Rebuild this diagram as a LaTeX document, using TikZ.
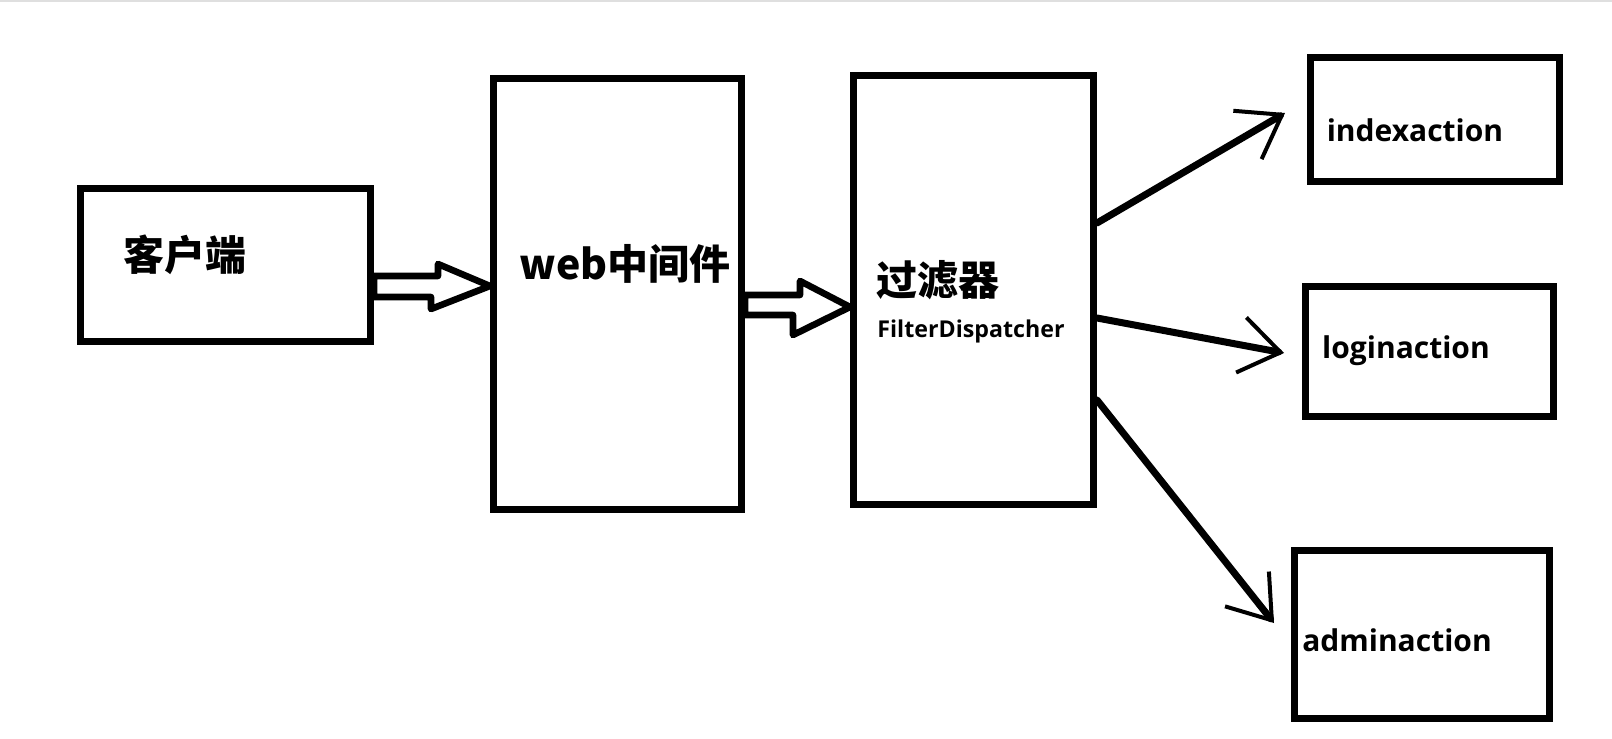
\documentclass[tikz,border=0pt]{standalone}
\usepackage{fontspec}
\setmainfont{Open Sans}
\newfontfamily\cjk{Noto Sans CJK SC}
\usetikzlibrary{arrows.meta}

\tikzset{
	box/.style={draw, line width=3.5pt, inner sep=0pt},
	cjklabel/.style={inner sep=0pt, font=\cjk\bfseries\fontsize{20.5pt}{24pt}\selectfont},
	actlabel/.style={inner sep=0pt, font=\bfseries\fontsize{15pt}{18pt}\selectfont},
	fat/.style={draw, line width=3.3pt, line join=round},
	link/.style={line width=3.5pt, line cap=round,
		-{Straight Barb[length=20pt, width=28pt, line width=2pt]}}
}

\begin{document}
\begin{tikzpicture}[x=0.5pt, y=-0.5pt]
	\useasboundingbox (0,0) rectangle (1612,739);
	\draw[gray!25, line width=0.6pt] (0,1) -- (1612,1);
	
	% Kasten
	\node[box, minimum width=145pt, minimum height=76.5pt] (client) at (225.5,265) {};
	\node[box, minimum width=124pt, minimum height=215.5pt] (web) at (617.5,294) {};
	\node[box, minimum width=120pt, minimum height=214.5pt] (filter) at (973.5,290) {};
	\node[box, minimum width=124.5pt, minimum height=62pt] (index) at (1435,119.5) {};
	\node[box, minimum width=124pt, minimum height=65pt] (login) at (1429.5,351.5) {};
	\node[box, minimum width=127.5pt, minimum height=84pt] (admin) at (1422,634.5) {};
	
	% Beschriftung
	\node[cjklabel] (client-txt) at (185,255) {客户端};
	\node[cjklabel] (web-txt) at (625,264) {web中间件};
	\node[cjklabel, anchor=west] (filter-txt) at (876,280) {过滤器};
	\node[inner sep=0pt, anchor=west, font=\bfseries\fontsize{11.6pt}{14pt}\selectfont] (filter-sub) at (877,331) {FilterDispatcher};
	\node[actlabel] (index-txt) at (1415,130) {indexaction};
	\node[actlabel] (login-txt) at (1406,351) {loginaction};
	\node[actlabel] (admin-txt) at (1397,640) {adminaction};
	
	% Doppelpfeile
	\draw[fat] ([shift={(0,11)}]client.east) -- ++(64,0) -- ++(0,-12)
	-- ([shift={(0,-8)}]web.west) -- ++(-59,23) -- ++(0,-12)
	-- ([shift={(0,32)}]client.east) -- cycle;
	\draw[fat] ([shift={(0,1)}]web.east) -- ++(55,0) -- ++(0,-14)
	-- ([shift={(0,17)}]filter.west) -- ++(-57,28) -- ++(0,-20)
	-- ([shift={(0,21)}]web.east) -- cycle;
	
	% Verteilung
	\draw[link] ([shift={(0,-67)}]filter.east) -- ([shift={(-22,-6.5)}]index.west);
	\draw[link] ([shift={(0,28)}]filter.east) -- ([shift={(-18,1.5)}]login.west);
	\draw[link] ([shift={(0,110)}]filter.east) -- ([shift={(-17,-11.5)}]admin.west);
	
\end{tikzpicture}
\end{document}
